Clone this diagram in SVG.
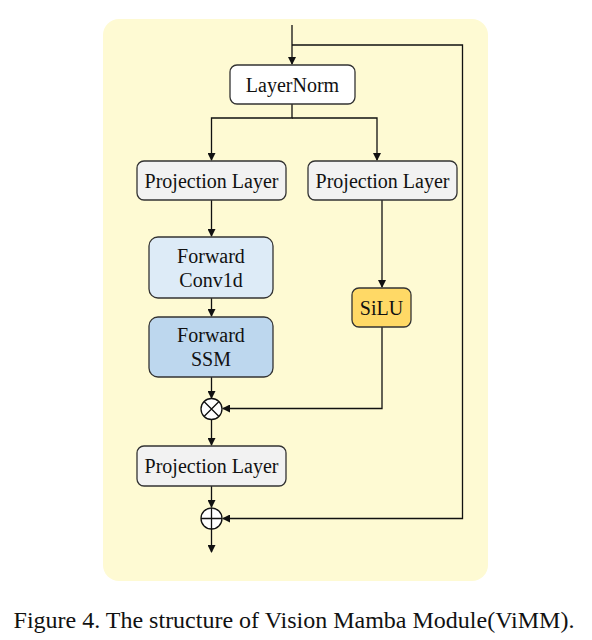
<svg xmlns="http://www.w3.org/2000/svg" width="592" height="640" viewBox="0 0 592 640">
<defs>
<marker id="ah" markerWidth="8" markerHeight="8" refX="7" refY="4" orient="auto" markerUnits="userSpaceOnUse">
<path d="M0,0 L8,4 L0,8 Z" fill="#111"/>
</marker>
<style>
.box{stroke:#333;stroke-width:1.3}
.t{font-family:"Liberation Serif","Times New Roman",serif;font-size:20px;fill:#111;text-anchor:middle}
.c{fill:none;stroke:#111;stroke-width:1.3}
.op{fill:#fff;stroke:#111;stroke-width:1.3}
</style>
</defs>
<rect x="0" y="0" width="592" height="640" fill="#fff"/>
<rect x="103" y="19" width="385" height="562" rx="16" fill="#FEFAD3"/>
<g id="connectors">
<path class="c" d="M292,25 V64" marker-end="url(#ah)"/>
<path class="c" d="M292,45 H462.5 V518.5 H223" marker-end="url(#ah)"/>
<path class="c" d="M292,104 V118 H211.5 V160" marker-end="url(#ah)"/>
<path class="c" d="M292,118 H377 V160" marker-end="url(#ah)"/>
<path class="c" d="M211.5,200 V236" marker-end="url(#ah)"/>
<path class="c" d="M211.5,298 V316" marker-end="url(#ah)"/>
<path class="c" d="M382,200 V287" marker-end="url(#ah)"/>
<path class="c" d="M211.5,377 V398" marker-end="url(#ah)"/>
<path class="c" d="M382,327 V408.5 H223" marker-end="url(#ah)"/>
<path class="c" d="M211.5,420 V445" marker-end="url(#ah)"/>
<path class="c" d="M211.5,486 V507" marker-end="url(#ah)"/>
<path class="c" d="M211.5,529 V552" marker-end="url(#ah)"/>
</g>
<g id="layernorm">
<rect class="box" x="230" y="65" width="125" height="39" rx="7" fill="#fff"/>
<text class="t" x="292.5" y="91.5">LayerNorm</text>
</g>
<g id="proj1">
<rect class="box" x="137" y="161" width="149" height="39" rx="7" fill="#F2F2F2"/>
<text class="t" x="211.5" y="187.5">Projection Layer</text>
</g>
<g id="proj2">
<rect class="box" x="308" y="161" width="149" height="39" rx="7" fill="#F2F2F2"/>
<text class="t" x="382.5" y="187.5">Projection Layer</text>
</g>
<g id="conv1d">
<rect class="box" x="149" y="237" width="124" height="61" rx="9" fill="#DDEBF7"/>
<text class="t" x="211" y="263">Forward</text>
<text class="t" x="211" y="287">Conv1d</text>
</g>
<g id="ssm">
<rect class="box" x="149" y="317" width="124" height="60" rx="9" fill="#BDD7EE"/>
<text class="t" x="211" y="342">Forward</text>
<text class="t" x="211" y="366">SSM</text>
</g>
<g id="silu">
<rect class="box" x="352" y="288" width="59" height="39" rx="7" fill="#FFD966"/>
<text class="t" x="381.5" y="314.5">SiLU</text>
</g>
<g id="mul">
<circle class="op" cx="211.5" cy="409" r="10.5"/>
<path class="c" d="M204,401.5 L219,416.5 M219,401.5 L204,416.5"/>
</g>
<g id="proj3">
<rect class="box" x="137" y="446" width="149" height="40" rx="7" fill="#F2F2F2"/>
<text class="t" x="211.5" y="473">Projection Layer</text>
</g>
<g id="add">
<circle class="op" cx="211.5" cy="518.5" r="10.5"/>
<path class="c" d="M201,518.5 H222 M211.5,508 V529"/>
</g>
<text x="294" y="628" font-family="Liberation Serif,'Times New Roman',serif" font-size="24" fill="#111" text-anchor="middle">Figure 4. The structure of Vision Mamba Module(ViMM).</text>
</svg>
